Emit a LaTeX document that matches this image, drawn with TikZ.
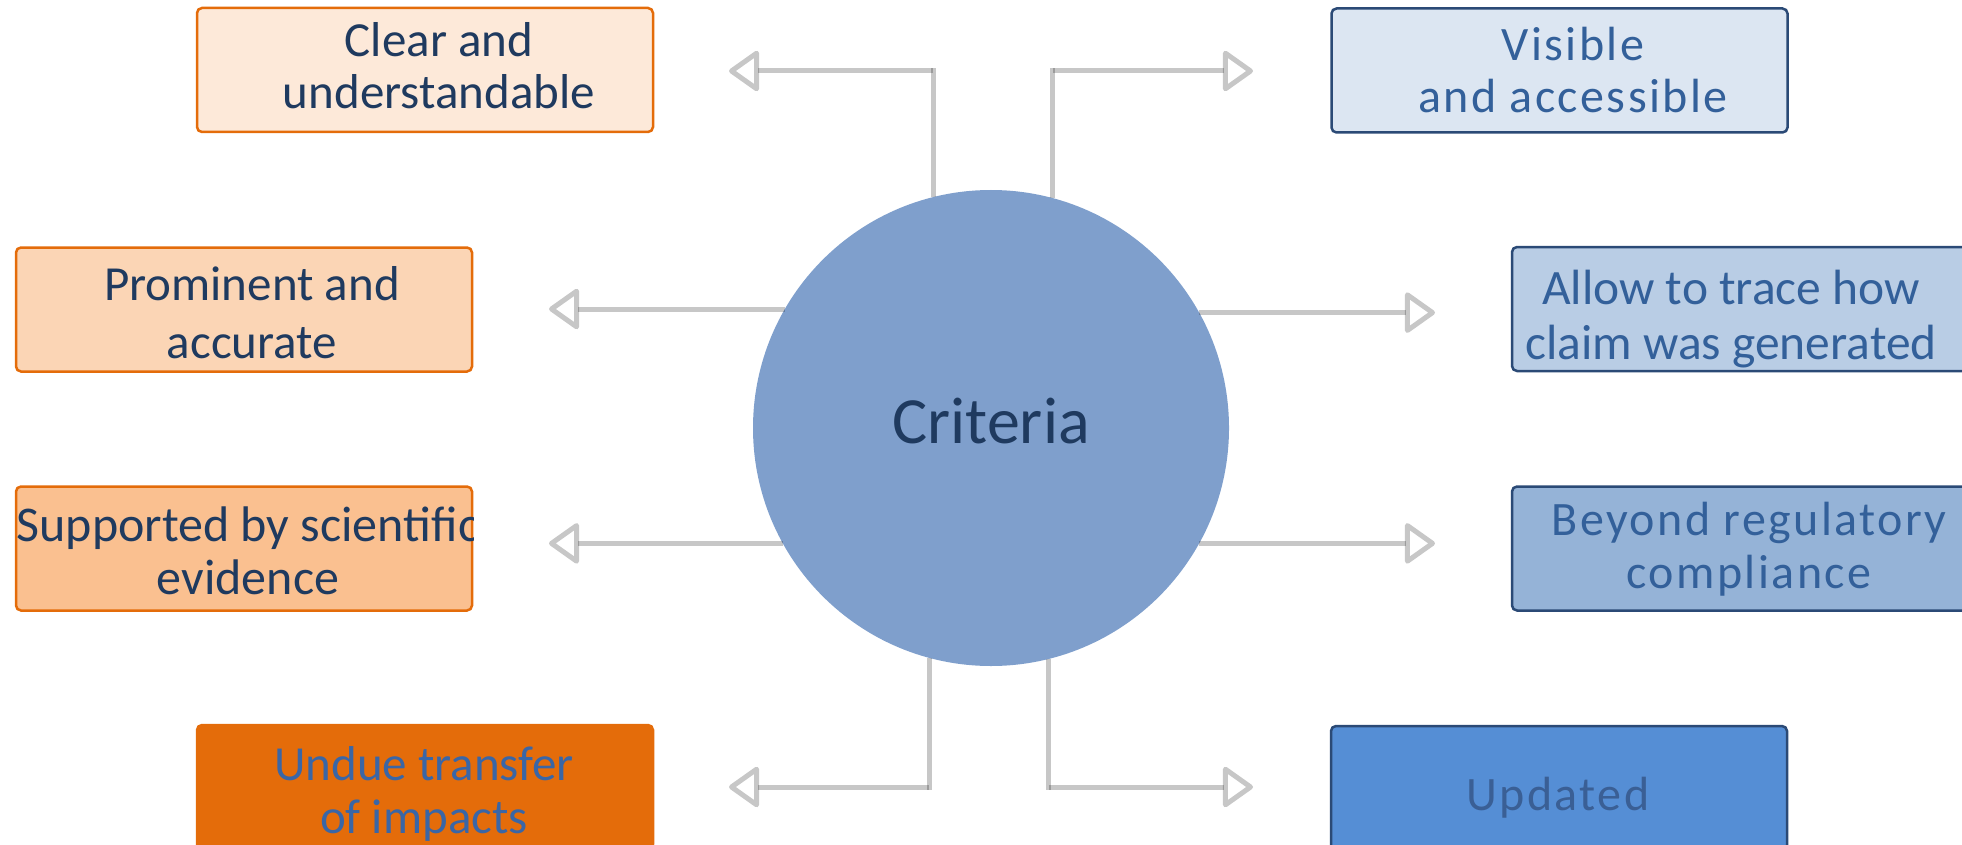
\documentclass[tikz,border=0pt]{standalone}
\usepackage{fontspec}
\setmainfont{Carlito}
\usetikzlibrary{arrows.meta}

\definecolor{hubfill}{HTML}{7F9FCC}
\definecolor{hubtext}{HTML}{1F3A5F}
\definecolor{orangeline}{HTML}{E46C0A}
\definecolor{peachA}{HTML}{FDE9D9}
\definecolor{peachB}{HTML}{FBD5B5}
\definecolor{peachC}{HTML}{FAC090}
\definecolor{orangeD}{HTML}{E46C0A}
\definecolor{blueline}{HTML}{2B4A76}
\definecolor{blueA}{HTML}{DCE6F2}
\definecolor{blueB}{HTML}{B9CDE5}
\definecolor{blueC}{HTML}{95B3D7}
\definecolor{blueD}{HTML}{558ED5}
\definecolor{navytext}{HTML}{1F3A5F}
\definecolor{bluetext}{HTML}{33609A}
\definecolor{updtext}{HTML}{3A5F95}
\definecolor{undtext}{HTML}{3A66A6}

% two centred lines, first baseline at the node's base anchor
\newcommand{\twoline}[4][49]{{\fontsize{#1}{#2}\selectfont
  \begin{tabular}[t]{@{}c@{}}#3\\#4\end{tabular}}}
% wider tracking used in some of the blue boxes
\newcommand{\wide}{\addfontfeature{LetterSpace=5}}

\tikzset{
  hub/.style={circle, fill=hubfill, minimum size=476pt, inner sep=0pt, outer sep=0pt,
    text=hubtext, font=\fontsize{66}{72}\selectfont, text height=43pt, text depth=13pt},
  box/.style={rectangle, rounded corners=5pt, minimum width=456pt, minimum height=124pt,
    line width=2.5pt, inner sep=0pt},
  lbox/.style={box, draw=orangeline},
  rbox/.style={box, draw=blueline},
  lbl/.style={anchor=base, inner sep=0pt, outer sep=0pt},
  seg/.style={line width=5pt, draw=black, draw opacity=0.22},
  conn/.style={seg, -{Triangle[open, length=32pt, width=44pt, round]}},
}

\begin{document}
\begin{tikzpicture}[x=1pt, y=-1pt]
\useasboundingbox (0,0) rectangle (1962,845);

% central circle
\node[hub] (crit) at (991,428) {Criteria};

% criteria boxes, left column
\node[lbox, fill=peachA] (clear) at (425,70) {};
\node[lbl, text=navytext] (clearT) at (439,57) {\twoline{52}{Clear and}{understandable}};

\node[lbox, fill=peachB] (prom) at (244,309.5) {};
\node[lbl, text=navytext] (promT) at (252,300) {\twoline{58}{Prominent and}{accurate}};

\node[lbox, fill=peachC] (supp) at (244,548.5) {};
\begin{scope}
  \clip[rounded corners=5pt] (supp.south west) rectangle (supp.north east);
  \node[lbl, text=navytext] (suppT) at (248,541) {\twoline[50]{53}{Supported by scientific}{evidence}};
\end{scope}

\node[box, fill=orangeD, draw=orangeline] (undue) at (425,787) {};
\node[lbl, text=undtext] (undueT) at (424,780) {\twoline{53}{Undue transfer}{of impacts}};

% criteria boxes, right column
\node[rbox, fill=blueA] (vis) at (1559.5,70.5) {};
\node[lbl, text=bluetext] (visT) at (1573,61) {\twoline[48]{52}{\wide Visible}{\wide and accessible}};

\node[rbox, fill=blueB] (trace) at (1740,309) {};
\node[lbl, text=bluetext] (traceT) at (1731,304) {\twoline[49.5]{55}{Allow to trace how}{claim was generated}};

\node[rbox, fill=blueC] (beyond) at (1740,548.5) {};
\node[lbl, text=bluetext] (beyondT) at (1749,535) {\twoline[48]{53}{\wide Beyond regulatory}{\wide compliance}};

\node[rbox, fill=blueD] (upd) at (1559,788) {};
\node[lbl, text=updtext, font=\fontsize{48}{53}\selectfont\wide] (updT) at (1558,810) {Updated};

% arrow tips and elbow points
\coordinate (tTL) at (729,71);
\coordinate (tTR) at (1253,71);
\coordinate (tML) at (549,0);
\coordinate (tMR) at (1435,0);
\coordinate (tBL) at (729,787);
\coordinate (tBR) at (1253,787);
\coordinate (eTL) at (crit.104.6 |- tTL);
\coordinate (eTR) at (crit.75.15 |- tTR);
\coordinate (eBL) at (crit.255.4 |- tBL);
\coordinate (eBR) at (crit.284.85 |- tBR);

% elbow connectors
\draw[seg, shorten >=-2.5pt] (crit.104.6) -- (eTL);
\draw[conn] (eTL) -- (tTL);
\draw[seg, shorten >=-2.5pt] (crit.75.15) -- (eTR);
\draw[conn] (eTR) -- (tTR);
\draw[seg, shorten >=-2.5pt] (crit.255.4) -- (eBL);
\draw[conn] (eBL) -- (tBL);
\draw[seg, shorten >=-2.5pt] (crit.284.85) -- (eBR);
\draw[conn] (eBR) -- (tBR);

% straight connectors
\draw[conn] (crit.150.55) -- (crit.150.55 -| tML);
\draw[conn] (crit.209.7) -- (crit.209.7 -| tML);
\draw[conn] (crit.29.45) -- (crit.29.45 -| tMR);
\draw[conn] (crit.-29.7) -- (crit.-29.7 -| tMR);
\end{tikzpicture}
\end{document}
